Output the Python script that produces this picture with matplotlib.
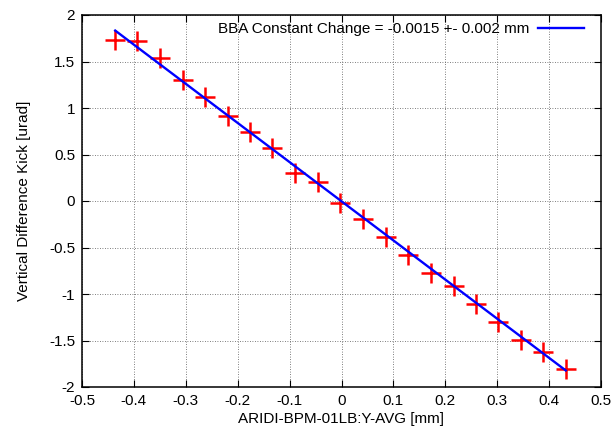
import matplotlib
matplotlib.use("Agg")
import matplotlib.pyplot as plt
import numpy as np

plt.rcParams['font.family'] = ['Liberation Sans', 'DejaVu Sans']

x_mm = [-0.436, -0.394, -0.349, -0.306, -0.263, -0.219, -0.176, -0.133, -0.089, -0.046,
        -0.002, 0.042, 0.085, 0.129, 0.172, 0.216, 0.259, 0.301, 0.346, 0.389, 0.432]
kick = [1.733, 1.725, 1.537, 1.304, 1.115, 0.918, 0.744, 0.572, 0.297, 0.208,
        -0.02, -0.196, -0.386, -0.579, -0.775, -0.911, -1.107, -1.297, -1.49, -1.625, -1.811]
fit_slope = -4.21
fit_intercept = -0.003
legend_label = "BBA Constant Change = -0.0015 +- 0.002 mm"
xticks = [-0.5, -0.4, -0.3, -0.2, -0.1, 0, 0.1, 0.2, 0.3, 0.4, 0.5]
yticks = [-2, -1.5, -1, -0.5, 0, 0.5, 1, 1.5, 2]

fig = plt.figure(figsize=(6.12, 4.34), dpi=100)
ax = fig.add_axes([82/612, 1-387/434, (601-82)/612, (387-15)/434])

ax.plot(x_mm, kick, linestyle='none', marker='+', color='red', markersize=15, markeredgewidth=1.8)
xf = np.array([min(x_mm), max(x_mm)])
ax.plot(xf, fit_slope*xf + fit_intercept, color='blue', lw=1.7, label=legend_label)

ax.set_xlim(-0.5, 0.5)
ax.set_ylim(-2, 2)
ax.set_xticks(xticks)
ax.set_yticks(yticks)
ax.set_xticklabels([f"{t:g}" for t in xticks])
ax.set_yticklabels([f"{t:g}" for t in yticks])
ax.tick_params(direction='in', top=True, right=True, length=5, width=0.8, labelsize=11, pad=5)
ax.grid(True, linestyle=(0, (1, 2)), color='#555555', linewidth=0.6)
for s in ax.spines.values():
    s.set_linewidth(1.1)
ax.set_xlabel("ARIDI-BPM-01LB:Y-AVG [mm]", fontsize=11, labelpad=3)
ax.set_ylabel("Vertical Difference Kick [urad]", fontsize=11, labelpad=13)
leg = ax.legend(loc='upper right', frameon=False, markerfirst=False, fontsize=11,
                handlelength=3.0, borderaxespad=0.2, handletextpad=0.6,
                bbox_to_anchor=(0.985, 1.005))
fig.savefig("out.png", dpi=100)
